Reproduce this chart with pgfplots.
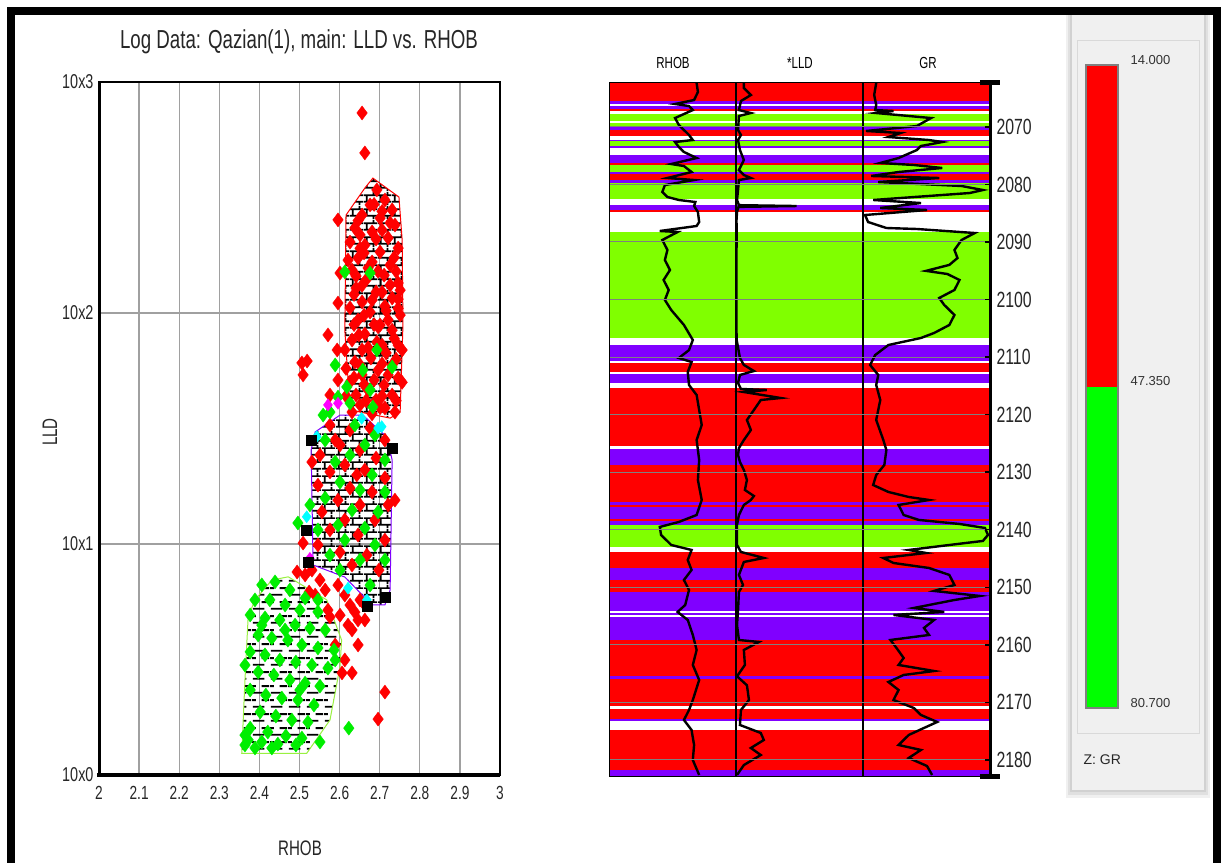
\documentclass[border=0pt]{standalone}
\usepackage{pgfplots}
\pgfplotsset{compat=1.18}
\usepackage{pgfplotstable}
\usepackage{fontspec}
\setmainfont{Liberation Sans}[FakeStretch=0.72]
\newfontfamily\cbfont{Liberation Sans}
\usetikzlibrary{patterns}
\definecolor{trred}{HTML}{FF0000}
\definecolor{trpur}{HTML}{8000FF}
\definecolor{trgrn}{HTML}{80FF00}
\definecolor{ptgrn}{HTML}{00EE00}
\definecolor{ptcyan}{HTML}{00FFFF}
\definecolor{ptmag}{HTML}{FF00FF}
\definecolor{polygrn}{HTML}{99F040}
\definecolor{gridgr}{HTML}{A0A0A0}
\definecolor{panel}{HTML}{F0F0F0}
\pgfdeclarepatternformonly{lbricks}{\pgfqpoint{0pt}{0pt}}{\pgfqpoint{14pt}{14pt}}{\pgfqpoint{14pt}{14pt}}{%
  \pgfsetlinewidth{1.8pt}%
  \pgfpathmoveto{\pgfqpoint{0pt}{3.5pt}}\pgfpathlineto{\pgfqpoint{14pt}{3.5pt}}%
  \pgfpathmoveto{\pgfqpoint{0pt}{10.5pt}}\pgfpathlineto{\pgfqpoint{14pt}{10.5pt}}%
  \pgfpathmoveto{\pgfqpoint{3pt}{3.5pt}}\pgfpathlineto{\pgfqpoint{3pt}{10.5pt}}%
  \pgfpathmoveto{\pgfqpoint{10pt}{10.5pt}}\pgfpathlineto{\pgfqpoint{10pt}{14pt}}%
  \pgfpathmoveto{\pgfqpoint{10pt}{0pt}}\pgfpathlineto{\pgfqpoint{10pt}{3.5pt}}%
  \pgfusepath{stroke}}
\pgfdeclarepatternformonly{ldashes}{\pgfqpoint{0pt}{0pt}}{\pgfqpoint{18pt}{14pt}}{\pgfqpoint{18pt}{14pt}}{%
  \pgfsetlinewidth{2pt}%
  \pgfpathmoveto{\pgfqpoint{1pt}{3.5pt}}\pgfpathlineto{\pgfqpoint{13pt}{3.5pt}}%
  \pgfpathmoveto{\pgfqpoint{10pt}{10.5pt}}\pgfpathlineto{\pgfqpoint{18pt}{10.5pt}}%
  \pgfpathmoveto{\pgfqpoint{0pt}{10.5pt}}\pgfpathlineto{\pgfqpoint{4pt}{10.5pt}}%
  \pgfusepath{stroke}}
\newcommand{\band}[3]{\addplot[fill=#1, draw=none, forget plot] coordinates {(0,#2) (3,#2) (3,#3) (0,#3)} -- cycle;}

\pgfplotstableread{
DEPT RHOB
2062.37 2.64
2063.94 2.65
2065.33 2.62
2066.02 2.47
2066.37 2.58
2067.07 2.61
2068.46 2.47
2069.67 2.50
2070.54 2.54
2071.41 2.58
2072.28 2.61
2072.63 2.47
2073.49 2.50
2074.36 2.54
2075.41 2.64
2076.45 2.44
2076.80 2.54
2077.84 2.60
2078.88 2.41
2079.23 2.62
2080.10 2.39
2081.31 2.37
2082.18 2.41
2082.70 2.50
2083.05 2.63
2083.75 2.62
2084.79 2.65
2086.53 2.66
2087.22 2.64
2088.09 2.35
2088.26 2.49
2089.65 2.37
2091.39 2.41
2093.13 2.39
2094.87 2.43
2096.60 2.38
2098.34 2.42
2100.08 2.39
2101.82 2.44
2104.42 2.54
2107.03 2.61
2108.78 2.58
2110.16 2.50
2110.86 2.60
2112.59 2.57
2114.85 2.58
2116.59 2.64
2119.19 2.66
2121.80 2.68
2124.41 2.64
2127.88 2.66
2131.36 2.65
2134.83 2.68
2137.44 2.64
2138.65 2.50
2139.52 2.35
2140.91 2.36
2142.65 2.44
2143.52 2.60
2145.26 2.57
2146.99 2.60
2148.73 2.54
2150.47 2.58
2153.08 2.55
2154.29 2.49
2155.68 2.57
2158.29 2.61
2160.90 2.64
2163.50 2.61
2166.11 2.66
2169.59 2.61
2171.33 2.58
2173.06 2.54
2174.80 2.60
2177.41 2.62
2180.02 2.61
2182.62 2.66
}\rhobtab

\pgfplotstableread{
DEPT LLD
2062.37 62
2063.24 62
2064.46 117
2065.50 39
2067.07 23
2067.59 117
2068.11 23
2070.54 16
2071.41 39
2072.28 16
2074.02 31
2075.76 62
2077.49 23
2078.36 62
2078.88 117
2079.23 23
2081.00 16
2082.70 8
2083.60 23
2083.75 477
2083.90 20
2084.79 8
2086.18 4
2088.20 5
2092.00 4
2096.00 3
2100.00 4
2104.00 3
2107.00 5
2110.16 31
2111.37 62
2112.42 141
2113.11 31
2114.50 16
2115.54 39
2115.72 242
2116.07 62
2117.11 352
2117.46 195
2119.19 141
2120.93 86
2122.67 117
2124.41 62
2125.80 23
2127.01 16
2128.23 31
2129.62 62
2131.36 86
2133.09 70
2134.14 141
2134.83 117
2135.70 62
2137.44 23
2139.17 8
2142.65 8
2143.87 39
2144.91 219
2145.60 62
2147.86 23
2149.60 55
2150.82 23
2153.95 16
2156.55 8
2159.16 23
2159.50 180
2160.90 62
2163.50 70
2165.47 8
2167.03 86
2169.59 102
2171.33 39
2173.93 31
2175.32 195
2176.54 219
2177.93 117
2179.15 195
2180.89 62
2182.62 8
}\lldtab

\pgfplotstableread{
DEPT GR
2062.37 10.4
2064.46 8.8
2066.19 10.4
2067.07 9.6
2067.24 24
2067.59 10.4
2068.46 53.6
2069.15 48
2069.85 42.4
2070.71 2.4
2071.06 29.6
2071.76 20
2072.28 52
2072.63 62.4
2073.32 45.6
2074.02 42.4
2075.41 28
2076.27 13.6
2076.62 40
2077.14 62.4
2077.84 28
2078.53 6.4
2078.88 60
2079.58 12
2080.27 77.6
2080.97 94.4
2081.49 84
2082.70 8
2083.23 45.6
2084.09 13.6
2084.44 50.4
2085.31 1.6
2086.53 4
2087.57 18.4
2087.74 42.4
2088.44 88
2089.65 77.6
2091.39 72
2092.78 74.4
2093.98 68
2095.02 49.6
2095.56 66.4
2096.60 76
2098.34 72
2099.73 60
2100.95 64
2102.68 72
2104.42 68
2105.81 56
2106.68 45.6
2107.90 20
2109.64 9.6
2111.37 5.6
2113.11 12
2114.85 10.4
2117.46 13.6
2120.93 10.4
2124.41 16
2126.15 18.4
2128.75 16.8
2130.49 10.4
2132.23 8
2133.44 20
2134.31 36
2134.83 52
2135.70 28
2137.44 32
2138.30 44
2139.00 76
2139.69 96
2140.91 98.4
2141.95 94.4
2142.65 68
2143.52 36
2144.04 49.6
2144.91 16
2145.78 24
2146.65 52
2147.86 68
2149.60 72
2150.64 56
2151.51 92
2152.21 72
2153.60 40
2154.29 64
2154.81 24
2155.68 56
2157.07 48
2158.29 52
2159.16 21.6
2160.55 26.4
2162.29 32
2163.50 28
2164.55 56
2165.24 32
2166.46 20
2167.85 28
2169.59 24
2170.98 40
2172.19 45.6
2173.41 58.4
2174.45 48
2175.67 36
2177.41 28
2178.27 45.6
2179.67 36
2181.06 50.4
2182.62 54.4
}\grtab

\begin{document}
\begin{tikzpicture}
% page frame
\fill[white] (0pt,0pt) rectangle (1223pt,-863pt);
\fill[black] (7pt,-7pt) rectangle (1221pt,-15pt);
\fill[black] (7pt,-7pt) rectangle (15pt,-863pt);
\fill[black] (1213pt,-7pt) rectangle (1221pt,-863pt);

% ---------------- crossplot ----------------
\begin{axis}[at={(99pt,-775pt)}, anchor=south west, scale only axis,
  width=401pt, height=693pt, xmin=2, xmax=3, ymin=0, ymax=3,
  xtick={2,2.1,2.2,2.3,2.4,2.5,2.6,2.7,2.8,2.9,3},
  xticklabels={2,2.1,2.2,2.3,2.4,2.5,2.6,2.7,2.8,2.9,3},
  ytick={0,1,2,3}, yticklabels={10x0,10x1,10x2,10x3},
  major tick length=0pt, grid=major,
  major grid style={gridgr, line width=1.3pt},
  axis line style={black, line width=1.5pt},
  tick label style={text=black!85},
  xticklabel style={font=\fontsize{19}{21}\selectfont, yshift=-8pt},
  yticklabel style={font=\fontsize{20}{22}\selectfont, xshift=-2pt},
  clip=false]
% red points
\addplot[only marks, mark=diamond*, mark size=7pt, color=red] coordinates {
(2.693,2.533)(2.713,2.489)(2.676,2.468)(2.731,2.446)(2.656,2.424)(2.701,2.411)(2.738,2.381)(2.638,2.368)(2.681,2.351)(2.721,2.325)(2.626,2.307)(2.663,2.294)(2.746,2.281)(2.701,2.264)(2.646,2.238)(2.681,2.221)(2.726,2.208)(2.631,2.186)(2.711,2.164)(2.666,2.143)(2.746,2.130)(2.641,2.108)(2.691,2.091)(2.731,2.065)(2.656,2.048)(2.626,2.022)(2.713,2.030)(2.676,2.004)(2.751,1.991)(2.646,1.970)(2.701,1.948)(2.731,1.926)(2.663,1.909)(2.631,1.883)(2.693,1.874)(2.746,1.861)(2.656,1.840)(2.716,1.827)(2.678,1.805)(2.638,1.788)(2.731,1.775)(2.696,1.753)(2.656,1.732)(2.746,1.719)(2.626,1.701)(2.711,1.688)(2.671,1.667)(2.641,1.645)(2.731,1.645)(2.691,1.623)(2.651,1.602)(2.713,1.589)(2.738,1.571)(2.631,1.571)(2.681,1.563)(2.621,2.229)(2.751,2.099)(2.721,1.970)(2.613,1.840)(2.671,2.195)(2.706,1.861)(2.648,1.905)(2.686,1.710)(2.706,2.359)(2.651,2.338)(2.726,2.121)(2.681,2.056)(2.651,1.775)(2.721,1.732)
(2.661,2.260)(2.736,2.240)(2.696,2.180)(2.641,2.160)(2.716,2.010)(2.661,1.990)(2.696,1.940)(2.741,1.800)(2.671,1.850)(2.616,1.760)(2.706,1.640)(2.756,1.700)(2.666,1.620)(2.746,2.020)(2.636,2.080)
(2.686,2.470)(2.706,2.440)(2.646,2.400)(2.726,2.390)(2.691,2.320)(2.651,2.280)(2.741,2.180)(2.656,2.120)(2.706,2.090)(2.746,2.060)(2.636,1.950)(2.686,1.950)(2.736,1.890)(2.706,1.780)(2.636,1.720)(2.741,1.620)(2.701,1.590)(2.661,1.690)(2.616,1.640)(2.756,1.840)
(2.656,2.866)(2.663,2.693)(2.596,2.403)(2.601,2.173)(2.596,2.043)(2.571,1.905)(2.506,1.784)(2.519,1.792)(2.509,1.732)(2.594,1.840)(2.596,1.710)(2.576,1.645)
(2.576,1.515)(2.626,1.493)(2.676,1.502)(2.713,1.450)(2.601,1.429)(2.651,1.407)(2.551,1.385)(2.691,1.372)(2.613,1.342)(2.576,1.312)(2.663,1.320)(2.713,1.286)(2.546,1.255)(2.626,1.242)(2.681,1.225)(2.596,1.190)(2.651,1.169)(2.721,1.169)(2.556,1.139)(2.613,1.104)(2.688,1.104)(2.576,1.061)(2.646,1.039)(2.713,1.017)(2.546,0.996)(2.601,0.965)(2.668,0.952)(2.631,0.909)(2.698,0.887)(2.531,1.355)(2.509,1.004)(2.738,1.190)(2.589,1.450)(2.643,1.299)
(2.494,0.879)(2.514,0.866)(2.531,0.887)(2.551,0.844)(2.564,0.801)(2.596,0.822)(2.613,0.779)(2.626,0.736)(2.638,0.705)(2.651,0.758)(2.646,0.671)(2.621,0.649)(2.631,0.628)(2.663,0.671)(2.601,0.692)(2.663,0.736)(2.539,0.779)(2.571,0.714)(2.524,0.792)
(2.606,0.442)(2.631,0.442)(2.646,0.563)(2.713,0.359)(2.696,0.242)(2.613,0.498)(2.576,0.684)(2.589,0.563)
};
% green points
\addplot[only marks, mark=diamond*, mark size=7pt, color=ptgrn] coordinates {
(2.406,0.823)(2.439,0.836)(2.476,0.801)(2.514,0.766)(2.389,0.758)(2.426,0.758)(2.464,0.736)(2.501,0.714)(2.546,0.706)(2.377,0.693)(2.414,0.680)(2.451,0.671)(2.489,0.649)(2.526,0.636)(2.564,0.628)(2.397,0.606)(2.431,0.593)(2.471,0.584)(2.506,0.563)(2.546,0.550)(2.586,0.541)(2.377,0.533)(2.414,0.520)(2.451,0.498)(2.491,0.489)(2.531,0.476)(2.571,0.463)(2.397,0.446)(2.436,0.433)(2.476,0.411)(2.514,0.398)(2.551,0.385)(2.377,0.368)(2.416,0.346)(2.456,0.333)(2.496,0.325)(2.536,0.303)(2.402,0.273)(2.441,0.255)(2.481,0.238)(2.521,0.229)(2.377,0.203)(2.421,0.186)(2.466,0.169)(2.506,0.160)(2.372,0.152)(2.406,0.143)(2.446,0.134)(2.491,0.130)(2.551,0.143)(2.389,0.117)(2.431,0.117)(2.364,0.130)(2.364,0.173)(2.501,0.368)(2.589,0.498)(2.364,0.476)(2.546,0.758)(2.464,0.628)(2.406,0.649)
(2.613,2.178)(2.676,2.173)(2.693,1.840)(2.731,1.766)(2.658,1.753)(2.589,1.775)(2.618,1.680)(2.596,1.636)(2.559,1.558)(2.576,1.571)(2.626,1.610)(2.676,1.667)(2.683,1.593)(2.623,0.203)(2.496,1.091)
(2.638,1.515)(2.688,1.472)(2.564,1.450)(2.663,1.429)(2.626,1.385)(2.713,1.364)(2.589,1.355)(2.681,1.299)(2.601,1.268)(2.651,1.234)(2.713,1.225)(2.564,1.199)(2.631,1.147)(2.696,1.139)(2.596,1.082)(2.663,1.069)(2.546,1.061)(2.613,1.017)(2.688,0.996)(2.576,0.952)(2.651,0.931)(2.713,0.931)(2.601,0.887)(2.526,1.169)(2.676,0.822)
};
\addplot[only marks, mark=diamond*, mark size=6pt, color=ptcyan] coordinates {
(2.655,1.544)(2.705,1.508)(2.543,1.465)(2.696,1.502)(2.518,1.118)(2.668,0.758)(2.621,0.809)};
\addplot[only marks, mark=diamond*, mark size=6pt, color=ptmag] coordinates {
(2.596,1.609)(2.526,0.938)(2.571,1.602)};
% polygons
\addplot[draw=red, line width=1pt, pattern=lbricks, pattern color=black] coordinates {
(2.683,2.584)(2.748,2.502)(2.756,2.316)(2.758,1.948)(2.751,1.571)(2.726,1.545)(2.626,1.580)(2.613,1.926)(2.616,2.424)(2.663,2.541)} -- cycle;
\addplot[draw=trpur, line width=1pt, pattern=lbricks, pattern color=black] coordinates {
(2.601,1.558)(2.658,1.558)(2.718,1.463)(2.731,1.364)(2.726,0.801)(2.713,0.736)(2.681,0.736)(2.613,0.857)(2.534,0.909)(2.529,1.407)(2.539,1.485)} -- cycle;
\addplot[draw=polygrn, line width=1pt, pattern=ldashes, pattern color=black] coordinates {
(2.431,0.844)(2.472,0.858)(2.568,0.758)(2.605,0.584)(2.601,0.469)(2.576,0.238)(2.518,0.094)(2.356,0.094)(2.364,0.411)(2.372,0.685)(2.389,0.758)} -- cycle;
\addplot[only marks, mark=square*, mark size=5pt, color=black] coordinates {
(2.530,1.450)(2.731,1.416)(2.516,1.061)(2.521,0.922)(2.713,0.771)(2.668,0.732)};
\draw[line width=3pt] (rel axis cs:0,0) -- (rel axis cs:0,1);
\draw[line width=4.5pt] (rel axis cs:-0.004,0) -- (rel axis cs:1,0);
\draw[line width=2pt] (rel axis cs:0,1) -- (rel axis cs:1,1);
\end{axis}

% ---------------- log tracks ----------------
\begin{axis}[at={(609pt,-776pt)}, anchor=south west, scale only axis,
  width=381pt, height=694pt, xmin=0, xmax=3, ymin=2062.2, ymax=2182.8,
  y dir=reverse, xtick=\empty,
  ytick={2070,2080,2090,2100,2110,2120,2130,2140,2150,2160,2170,2180},
  yticklabels={2070,2080,2090,2100,2110,2120,2130,2140,2150,2160,2170,2180},
  ytick pos=right, yticklabel pos=right, tick align=inside,
  major tick length=5pt, tick style={black, line width=1.5pt},
  ymajorgrids, major grid style={gray, line width=1pt},
  axis line style={black, line width=1pt},
  yticklabel style={font=\fontsize{22}{24}\selectfont, text=black!85, xshift=3pt},
  axis on top, clip=false]
\band{trred}{2062.2}{2065.45}
\band{trpur}{2065.45}{2066.0}
\band{trpur}{2066.3}{2066.9}
\band{trred}{2066.9}{2067.2}
\band{trgrn}{2067.8}{2069.0}
\band{trgrn}{2069.3}{2070.0}
\band{trpur}{2070.0}{2070.6}
\band{trred}{2070.6}{2071.6}
\band{trpur}{2072.2}{2072.5}
\band{trgrn}{2072.5}{2073.3}
\band{trpur}{2073.3}{2073.7}
\band{trpur}{2074.9}{2076.2}
\band{trred}{2076.2}{2076.6}
\band{trgrn}{2076.6}{2077.8}
\band{trpur}{2077.8}{2078.2}
\band{trred}{2078.2}{2079.2}
\band{trpur}{2079.2}{2079.7}
\band{trgrn}{2079.7}{2082.6}
\band{trpur}{2083.6}{2084.4}
\band{trred}{2084.4}{2084.8}
\band{trgrn}{2088.2}{2106.6}
\band{trpur}{2107.9}{2110.6}
\band{trred}{2111.0}{2112.6}
\band{trpur}{2113.0}{2114.5}
\band{trred}{2115.4}{2125.4}
\band{trpur}{2125.9}{2128.8}
\band{trred}{2128.8}{2135.1}
\band{trpur}{2135.1}{2135.7}
\band{trred}{2135.7}{2136.0}
\band{trpur}{2136.0}{2138.2}
\band{trred}{2138.2}{2138.5}
\band{trpur}{2138.5}{2139.1}
\band{trgrn}{2139.1}{2143.0}
\band{trred}{2143.8}{2146.6}
\band{trpur}{2146.6}{2148.7}
\band{trred}{2148.7}{2150.8}
\band{trpur}{2150.8}{2154.2}
\band{trpur}{2154.5}{2154.9}
\band{trpur}{2155.2}{2159.2}
\band{trred}{2159.2}{2165.5}
\band{trpur}{2165.5}{2166.0}
\band{trred}{2166.0}{2170.7}
\band{trred}{2171.2}{2172.9}
\band{trpur}{2172.9}{2173.3}
\band{trred}{2174.8}{2181.8}
\band{trpur}{2181.8}{2182.8}
\draw[black, line width=1.2pt] (axis cs:1,2062.2) -- (axis cs:1,2182.8);
\draw[black, line width=1.2pt] (axis cs:2,2062.2) -- (axis cs:2,2182.8);
\addplot[black, line width=2.4pt, line join=miter] table[x expr=\thisrow{RHOB}-1.95, y=DEPT] {\rhobtab};
\addplot[black, line width=2.4pt, line join=miter] table[x expr=1+\thisrow{LLD}/1000, y=DEPT] {\lldtab};
\addplot[black, line width=2.4pt, line join=miter] table[x expr=2+\thisrow{GR}/100, y=DEPT] {\grtab};
\draw[black, line width=3pt] (axis cs:3,2062.2) -- (axis cs:3,2182.8);
\draw[black, line width=5pt] (axis cs:2.92,2062.2) -- (axis cs:3.08,2062.2);
\draw[black, line width=5pt] (axis cs:2.92,2182.8) -- (axis cs:3.08,2182.8);
\end{axis}

% ---------------- colour scale panel ----------------
\fill[black!6] (1066pt,-15pt) rectangle (1210pt,-798pt);
\fill[black!12] (1068pt,-15pt) rectangle (1208pt,-795pt);
\fill[black!18] (1070pt,-15pt) rectangle (1206pt,-792pt);
\fill[panel] (1072pt,-15pt) rectangle (1204pt,-790pt);
\draw[black!15, line width=1pt] (1077pt,-40pt) rectangle (1199pt,-733pt);
\begin{axis}[at={(1086pt,-708pt)}, anchor=south west, scale only axis,
  width=32pt, height=643pt, xmin=0, xmax=1, ymin=14, ymax=80.7, y dir=reverse,
  xtick=\empty, ytick={14,47.35,80.7}, yticklabels={14.000,47.350,80.700},
  yticklabel pos=right, major tick length=0pt,
  axis line style={gray, line width=1.2pt}, axis on top,
  yticklabel style={font=\cbfont\fontsize{13}{15}\selectfont, text=black!80, yshift=5pt, xshift=9pt}]
\addplot[fill=red, draw=none] coordinates {(0,14) (1,14) (1,47.35) (0,47.35)} -- cycle;
\addplot[fill=green, draw=none] coordinates {(0,47.35) (1,47.35) (1,80.7) (0,80.7)} -- cycle;
\end{axis}
\node[anchor=west, font=\cbfont\fontsize{14}{16}\selectfont, text=black!85] at (1080pt,-760pt) {Z: GR};

% ---------------- texts ----------------
\node[font=\fontsize{26}{28}\selectfont, text=black!85] at (299pt,-42pt) {Log Data: Qazian(1), main: LLD vs. RHOB};
\node[font=\fontsize{21}{23}\selectfont, text=black!85] at (300pt,-848pt) {RHOB};
\node[font=\fontsize{21}{23}\selectfont, text=black!85, rotate=90] at (50pt,-432pt) {LLD};
\node[font=\fontsize{16}{18}\selectfont] at (673pt,-63pt) {RHOB};
\node[font=\fontsize{16}{18}\selectfont] at (800pt,-63pt) {{\fontsize{16}{16}\selectfont *}LLD};
\node[font=\fontsize{16}{18}\selectfont] at (928pt,-63pt) {GR};
\end{tikzpicture}
\end{document}
